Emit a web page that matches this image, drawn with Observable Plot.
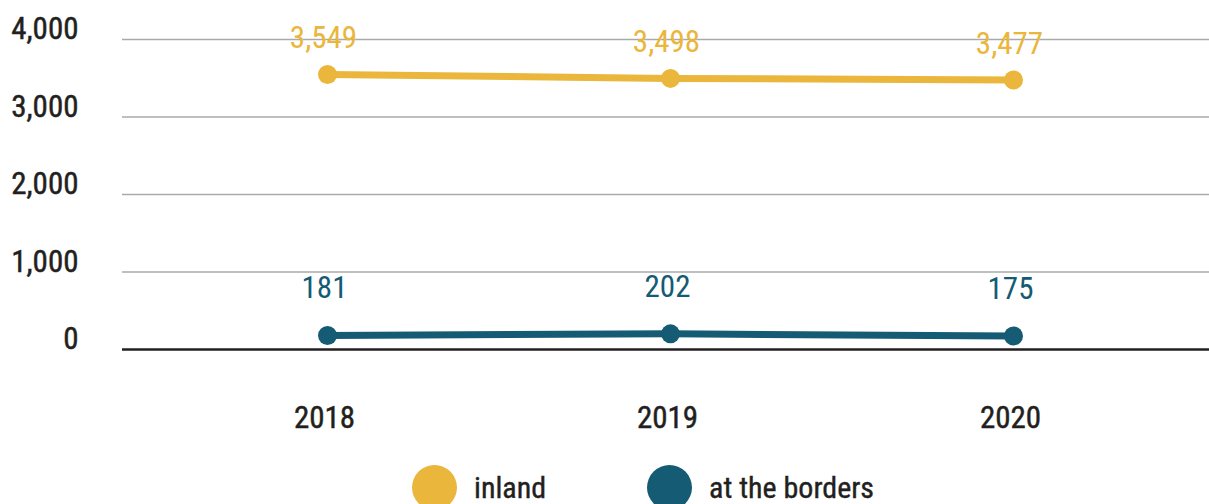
<!DOCTYPE html>
<html>
<head>
<meta charset="utf-8">
<script src="https://cdn.jsdelivr.net/npm/d3@7"></script>
<script src="https://cdn.jsdelivr.net/npm/@observablehq/plot@0.6"></script>
<style>
  html, body { margin: 0; padding: 0; background: #fff; overflow: hidden; }
  #chart { width: 1209px; }
  .ff { font-family: "Liberation Sans Narrow", "Roboto Condensed", "DejaVu Sans Condensed", "Liberation Sans", sans-serif; font-stretch: condensed; }
  .legend { display: flex; align-items: center; margin-top: 25px; margin-left: 412px; }
  .item { display: flex; align-items: center; margin-right: 101px; }
  .sw { width: 45px; height: 45px; border-radius: 50%; margin-right: 17px; }
  .lab { font-size: 30px; color: #231f20; -webkit-text-stroke: 0.4px #231f20; }
  .axtext text { stroke: #231f20; stroke-width: 0.45px; }
</style>
</head>
<body>
<div id="chart"></div>
<script>
const years = ["2018", "2019", "2020"];
const inland = [3549, 3498, 3477];
const borders = [181, 202, 175];
const seriesNames = ["inland", "at the borders"];
const seriesColors = ["#eab63b", "#145b73"];
const yTicks = [0, 1000, 2000, 3000, 4000];

const data = [];
years.forEach((yr, i) => {
  data.push({year: yr, value: inland[i], series: seriesNames[0]});
  data.push({year: yr, value: borders[i], series: seriesNames[1]});
});
const fmt = d3.format(",");
const font = '"Liberation Sans Narrow", "Roboto Condensed", "DejaVu Sans Condensed", "Liberation Sans", sans-serif';

const plot = Plot.plot({
  width: 1209,
  height: 440,
  marginLeft: 122,
  marginRight: 0,
  marginTop: 39,
  marginBottom: 91,
  style: {fontFamily: font, fontSize: "31px", color: "#231f20", background: "#fff"},
  x: {type: "point", domain: years, padding: 0.5845, align: 0.51, label: null},
  y: {domain: [0, 4000], label: null},
  color: {domain: seriesNames, range: seriesColors},
  marks: [
    Plot.ruleY(yTicks.filter(d => d > 0), {stroke: "#aaaaaa", strokeWidth: 1.3}),
    Plot.ruleY([0], {stroke: "#231f20", strokeWidth: 2.6}),
    Plot.axisY({ticks: yTicks, tickSize: 0, tickPadding: 44, tickFormat: fmt, dy: -10, fontSize: 31, fill: "#231f20", className: "axtext"}),
    Plot.axisX({tickSize: 0, tickPadding: 56, fontSize: 31, fill: "#231f20", className: "axtext", dx: -3}),
    Plot.line(data, {x: "year", y: "value", z: "series", stroke: "series", strokeWidth: 7}),
    Plot.dot(data, {x: "year", y: "value", fill: "series", r: 9.5}),
    Plot.text(data.filter(d => d.series === seriesNames[0]), {x: "year", y: "value", text: d => fmt(d.value), fill: seriesColors[0], dy: -36, dx: -4, fontSize: 31}),
    Plot.text(data.filter(d => d.series === seriesNames[1]), {x: "year", y: "value", text: d => fmt(d.value), fill: seriesColors[1], dy: -47, dx: -3, fontSize: 31})
  ]
});
const chart = document.getElementById("chart");
chart.appendChild(plot);

const legend = document.createElement("div");
legend.className = "legend ff";
seriesNames.forEach((name, i) => {
  const item = document.createElement("div");
  item.className = "item";
  const sw = document.createElement("div");
  sw.className = "sw";
  sw.style.background = seriesColors[i];
  const lab = document.createElement("span");
  lab.className = "lab";
  lab.textContent = name;
  item.appendChild(sw);
  item.appendChild(lab);
  legend.appendChild(item);
});
chart.appendChild(legend);
</script>
</body>
</html>
